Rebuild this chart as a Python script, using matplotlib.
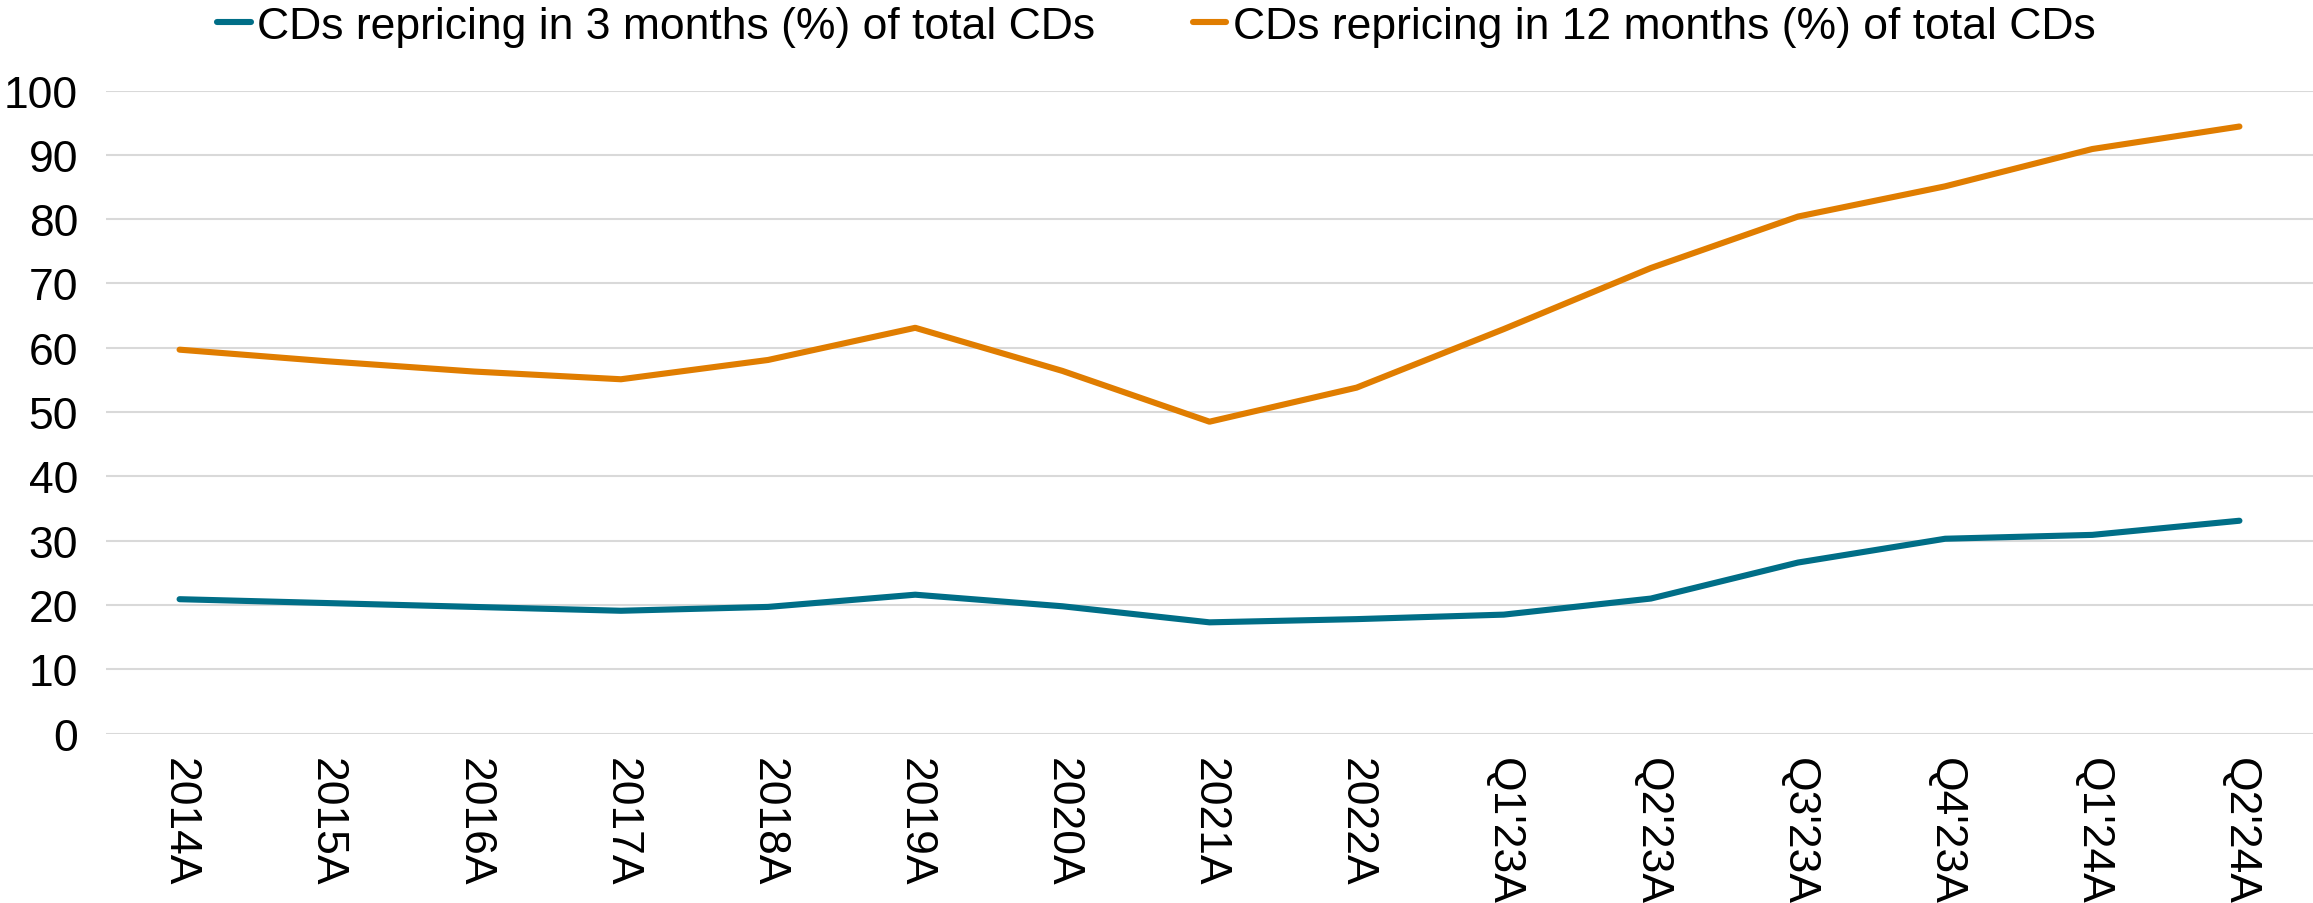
import matplotlib
matplotlib.use("Agg")
import matplotlib.pyplot as plt

categories = ["2014A", "2015A", "2016A", "2017A", "2018A", "2019A", "2020A", "2021A",
              "2022A", "Q1'23A", "Q2'23A", "Q3'23A", "Q4'23A", "Q1'24A", "Q2'24A"]
cd_3m = [20.9, 20.3, 19.7, 19.1, 19.7, 21.6, 19.8, 17.3, 17.8, 18.5, 21.0, 26.6, 30.3, 30.9, 33.1]
cd_12m = [59.7, 57.9, 56.3, 55.1, 58.1, 63.1, 56.4, 48.5, 53.8, 62.9, 72.4, 80.4, 85.1, 90.9, 94.4]
label_3m = "CDs repricing in 3 months (%) of total CDs"
label_12m = "CDs repricing in 12 months (%) of total CDs"
yticks = list(range(0, 101, 10))

plt.rcParams['font.family'] = ['Liberation Sans', 'DejaVu Sans']

fig = plt.figure(figsize=(23.13, 9.04), dpi=100)
ax = fig.add_axes([106/2313, 169.4/904, (2313-106)/2313, (734.6-91.5)/904])

x = list(range(len(categories)))
ax.plot(x, cd_3m, color="#006E87", lw=4.4, label=label_3m, solid_capstyle="round")
ax.plot(x, cd_12m, color="#E07D00", lw=4.4, label=label_12m, solid_capstyle="round")

ax.set_xlim(-0.5, len(categories) - 0.5)
ax.set_ylim(0, 100)
ax.set_yticks(yticks)
ax.set_xticks(x)
ax.set_xticklabels(categories, rotation=-90, fontsize=32)
ax.tick_params(axis='y', labelsize=32, length=0, pad=20)
ax.tick_params(axis='x', length=0, pad=17)
ax.grid(axis='y', color="#D9D9D9", lw=1.5)
ax.set_axisbelow(True)
for s in ax.spines.values():
    s.set_visible(False)

leg = fig.legend(loc="center", bbox_to_anchor=(0.5, 1 - 27/904), ncol=2, frameon=False,
                 fontsize=32, handlelength=0.75, handletextpad=0.15, columnspacing=2.2)

fig.savefig("out.png", dpi=100)
